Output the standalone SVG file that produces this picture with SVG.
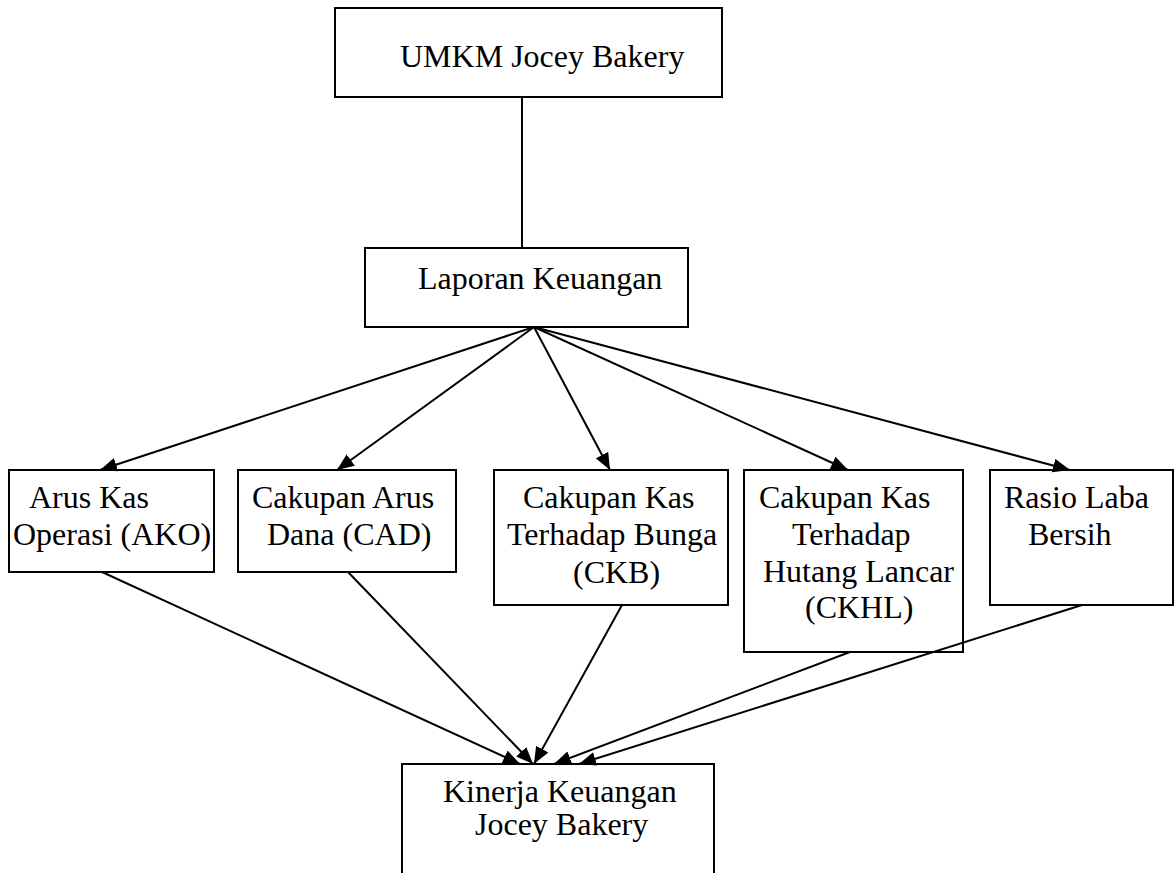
<svg xmlns="http://www.w3.org/2000/svg" width="1176" height="873" viewBox="0 0 1176 873">
<defs>
<style>
.box{fill:#fff;stroke:#000;stroke-width:2}
.t{font-family:"Liberation Serif","Times New Roman",serif;font-size:32px;fill:#000}
.c{stroke:#000;stroke-width:2;fill:none}
</style>
<marker id="ah" markerUnits="userSpaceOnUse" markerWidth="18" markerHeight="14" refX="17" refY="7" orient="auto">
<path d="M0,0 L17,7 L0,14 z" fill="#000"/>
</marker>
</defs>
<rect width="1176" height="873" fill="#fff"/>
<g id="n-umkm">
<rect class="box" x="335" y="8" width="387" height="89"/>
<text class="t" x="400" y="67">UMKM Jocey Bakery</text>
</g>
<g id="n-laporan">
<rect class="box" x="365" y="248" width="323" height="79"/>
<text class="t" x="418" y="289">Laporan Keuangan</text>
</g>
<g id="n-ako">
<rect class="box" x="9" y="470" width="205" height="102"/>
<text class="t" x="29" y="508">Arus Kas</text>
<text class="t" x="13" y="545">Operasi (AKO)</text>
</g>
<g id="n-cad">
<rect class="box" x="238" y="470" width="218" height="102"/>
<text class="t" x="252" y="508">Cakupan Arus</text>
<text class="t" x="267" y="545">Dana (CAD)</text>
</g>
<g id="n-ckb">
<rect class="box" x="494" y="470" width="234" height="135"/>
<text class="t" x="523" y="508">Cakupan Kas</text>
<text class="t" x="507" y="545">Terhadap Bunga</text>
<text class="t" x="573" y="583">(CKB)</text>
</g>
<g id="n-ckhl">
<rect class="box" x="744" y="470" width="219" height="182"/>
<text class="t" x="759" y="508">Cakupan Kas</text>
<text class="t" x="792" y="545">Terhadap</text>
<text class="t" x="763" y="582">Hutang Lancar</text>
<text class="t" x="805" y="618">(CKHL)</text>
</g>
<g id="n-rasio">
<rect class="box" x="990" y="470" width="183" height="135"/>
<text class="t" x="1004" y="508">Rasio Laba</text>
<text class="t" x="1028" y="545">Bersih</text>
</g>
<g id="n-kinerja">
<path class="c" d="M402,880 L402,764 L714,764 L714,880"/>
<text class="t" x="443" y="802">Kinerja Keuangan</text>
<text class="t" x="475" y="835">Jocey Bakery</text>
</g>
<g id="connectors">
<line class="c" x1="522" y1="97" x2="522" y2="248"/>
<line class="c" x1="534" y1="327" x2="100" y2="470" marker-end="url(#ah)"/>
<line class="c" x1="534" y1="327" x2="337" y2="470" marker-end="url(#ah)"/>
<line class="c" x1="534" y1="327" x2="610" y2="470" marker-end="url(#ah)"/>
<line class="c" x1="534" y1="327" x2="848" y2="470" marker-end="url(#ah)"/>
<line class="c" x1="534" y1="327" x2="1070" y2="470" marker-end="url(#ah)"/>
<line class="c" x1="102" y1="572" x2="520" y2="764" marker-end="url(#ah)"/>
<line class="c" x1="348" y1="572" x2="533" y2="764" marker-end="url(#ah)"/>
<line class="c" x1="622" y1="605" x2="534" y2="764" marker-end="url(#ah)"/>
<line class="c" x1="850" y1="652" x2="554" y2="764" marker-end="url(#ah)"/>
<line class="c" x1="1082" y1="605" x2="579" y2="764" marker-end="url(#ah)"/>
</g>
</svg>
